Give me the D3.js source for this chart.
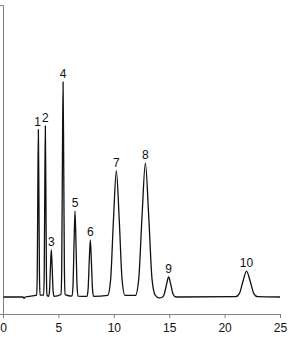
<!DOCTYPE html>
<html>
<head>
<meta charset="utf-8">
<script src="https://cdn.jsdelivr.net/npm/d3@7"></script>
<style>
  body { margin: 0; background: #fff; }
  svg text { font-family: "Liberation Sans", Arial, sans-serif; }
</style>
</head>
<body>
<svg id="chart" width="288" height="337"></svg>
<script>
// trace: retention time (min) and detector signal
const time = [
  0.03, 1.8, 1.9, 2.0,
  3.04, 3.09, 3.14, 3.19, 3.24, 3.29, 3.34,
  3.67, 3.72, 3.77, 3.82, 3.87, 3.92, 3.97,
  4.12, 4.2, 4.28, 4.36, 4.44, 4.52, 4.6,
  5.24, 5.3, 5.36, 5.42, 5.48, 5.54, 5.6,
  6.23, 6.32, 6.41, 6.5, 6.59, 6.68, 6.77,
  7.58, 7.68, 7.78, 7.88, 7.98, 8.08, 8.18,
  9.45, 9.71, 9.97, 10.23, 10.49, 10.75, 11.01,
  11.95, 12.25, 12.55, 12.85, 13.15, 13.45, 13.75,
  14.1, 14.4, 14.55, 14.75, 14.95, 15.15, 15.35, 15.6,
  21.0, 21.33, 21.66, 21.98, 22.31, 22.64, 22.97,
  25
];
const signal = [
  0, 0, -0.4, 0,
  0.6, 7.3, 33, 54.2, 33, 7.3, 0.6,
  0.6, 7.5, 33.8, 55.4, 33.8, 7.5, 0.6,
  0.2, 2.1, 9.3, 15.3, 9.3, 2.1, 0.2,
  0.8, 9.4, 42.5, 69.6, 42.5, 9.4, 0.8,
  0.3, 3.8, 17, 27.8, 17, 3.8, 0.3,
  0.2, 2.5, 11.3, 18.5, 11.3, 2.5, 0.2,
  0.5, 5.5, 25, 40.9, 25, 5.5, 0.5,
  0.5, 5.8, 26.3, 43.3, 26.3, 5.8, 0.5,
  -0.3, 0, 0.9, 3.9, 6.5, 3.9, 0.9, 0,
  0.1, 1.1, 5.1, 8.4, 5.1, 1.1, 0.1,
  0
];

// peak numbers and their apex
const peakLabels = ["1", "2", "3", "4", "5", "6", "7", "8", "9", "10"];
const peakTime = [3.12, 3.82, 4.36, 5.42, 6.5, 7.88, 10.23, 12.85, 14.95, 21.98];
const peakHeight = [54.2, 55.4, 15.3, 69.6, 27.8, 18.5, 40.9, 43.3, 6.5, 8.4];

const xTicks = [0, 5, 10, 15, 20, 25];

let svg = d3.select("#chart");
let margin = {left: 3, top: 5, right: 8, bottom: 23};
let width = +svg.attr("width") - margin.left - margin.right;
let height = +svg.attr("height") - margin.top - margin.bottom;

let x = d3.scaleLinear().domain([0, 25]).range([0, width]);
let y = d3.scaleLinear().domain([-5.5, 94.5]).range([height, 0]);

let g = svg.append("g").attr("transform", `translate(${margin.left}, ${margin.top})`);

let points = time.map((t, i) => ({t: t, v: signal[i]}));

let line = d3.line()
    .x((d) => x(d.t))
    .y((d) => y(d.v))
    .curve(d3.curveMonotoneX);

// x axis
let xAxis = g.append("g")
    .attr("transform", `translate(0, ${height})`)
    .call(d3.axisBottom(x).tickValues(xTicks).tickSize(4).tickSizeOuter(0));
xAxis.select(".domain").attr("stroke", "#808080");
xAxis.selectAll(".tick line").attr("stroke", "#808080");
xAxis.selectAll(".tick text")
    .attr("fill", "#111")
    .attr("font-size", 12)
    .attr("dy", "0.95em");

// y axis, no labels
let yAxis = g.append("g")
    .call(d3.axisLeft(y).tickValues([]).tickSizeOuter(3));
yAxis.select(".domain").attr("stroke", "#808080");

g.append("path")
    .datum(points)
    .attr("fill", "none")
    .attr("stroke", "#111")
    .attr("stroke-width", 1.3)
    .attr("stroke-linejoin", "round")
    .attr("d", line);

g.selectAll(".peak-label")
    .data(peakLabels)
    .enter()
    .append("text")
    .attr("class", "peak-label")
    .attr("x", (d, i) => x(peakTime[i]))
    .attr("y", (d, i) => y(peakHeight[i]) - 4)
    .attr("text-anchor", "middle")
    .attr("font-size", 12)
    .attr("fill", "#111")
    .text((d) => d);
</script>
</body>
</html>
